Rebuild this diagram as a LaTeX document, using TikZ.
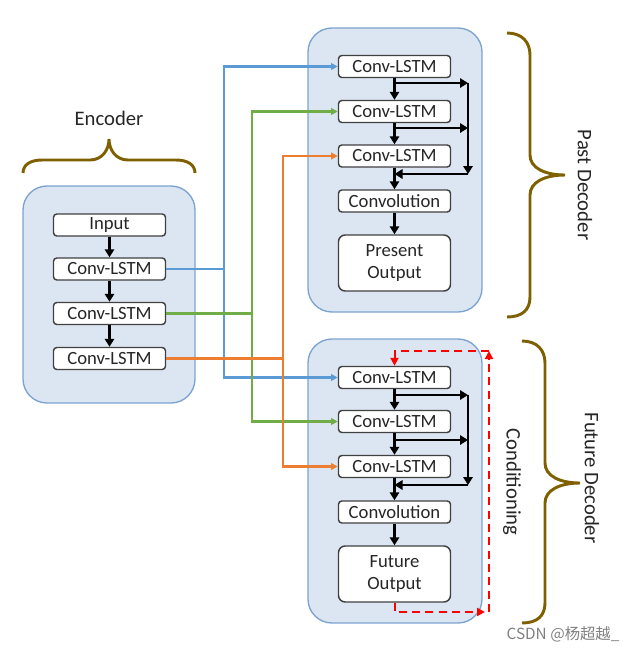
\documentclass[tikz,border=0pt]{standalone}
\usepackage{fontspec}
\setmainfont{Carlito}
\newfontfamily\cjkfont{Noto Sans CJK SC}
\usetikzlibrary{arrows.meta}
\definecolor{contfill}{HTML}{DCE6F2}
\definecolor{contdraw}{HTML}{7BA3D0}
\definecolor{boxdraw}{HTML}{404040}
\definecolor{cblue}{HTML}{5B9BD5}
\definecolor{cgreen}{HTML}{70AD47}
\definecolor{corange}{HTML}{ED7D31}
\definecolor{bracecol}{HTML}{7F6000}
\definecolor{txt}{HTML}{262626}
\tikzset{
  container/.style={draw=contdraw, fill=contfill, line width=1pt, rounded corners=18pt, inner sep=0pt},
  box/.style={draw=boxdraw, fill=white, line width=1.1pt, rounded corners=2.5pt, minimum width=84pt, minimum height=16.5pt, inner sep=0pt, font=\fontsize{14}{16}\selectfont, text=txt},
  bigbox/.style={box, minimum height=42pt, align=center, rounded corners=5pt},
  arr/.style={line width=1.6pt, -{Triangle[length=6pt,width=7pt]}},
  conn/.style={line width=1.7pt, -{Triangle[length=5pt,width=5pt]}},
  reddash/.style={red, line width=1.5pt, dash pattern=on 6pt off 4pt, -{Triangle[length=6pt,width=6pt]}},
  bracepath/.style={draw=bracecol, line width=2.2pt},
  lbl/.style={font=\fontsize{15.5}{18}\selectfont, text=txt}
}
\begin{document}
\begin{tikzpicture}[x=0.75pt,y=-0.75pt]
\useasboundingbox (0,0) rectangle (636,651);
% containers
\node[container, minimum width=129pt, minimum height=162.75pt] (enc) at (109,294.5) {};
\node[container, minimum width=130.5pt, minimum height=213pt] (past) at (395,170) {};
\node[container, minimum width=130.5pt, minimum height=213pt] (fut) at (395,481) {};
% encoder nodes
\node[box] (ein) at (109.5,225) {Input};
\node[box] (e1) at (109.5,269) {Conv-LSTM};
\node[box] (e2) at (109.5,313.5) {Conv-LSTM};
\node[box] (e3) at (109.5,358.5) {Conv-LSTM};
\draw[arr] (ein) -- (e1);
\draw[arr] (e1) -- (e2);
\draw[arr] (e2) -- (e3);
% past decoder nodes
\node[box] (p1) at (394.5,66.5) {Conv-LSTM};
\node[box] (p2) at (394.5,111.5) {Conv-LSTM};
\node[box] (p3) at (394.5,156) {Conv-LSTM};
\node[box] (pc) at (394.5,201) {Convolution};
\node[bigbox] (po) at (394.5,263) {Present\\Output};
\draw[arr] (p1) -- (p2);
\draw[arr] (p2) -- (p3);
\draw[arr] (p3) -- (pc);
\draw[arr] (pc) -- (po);
\coordinate (pr1) at (468,83);
\coordinate (pr2) at (468,128);
\coordinate (pr3) at (468,174);
\draw[arr] (p1.south |- pr1) -- (pr1);
\draw[arr] (p2.south |- pr2) -- (pr2);
\draw[arr] (pr1) -- (pr3);
\draw[arr] (pr3) -- (p3.south |- pr3);
% future decoder nodes
\node[box] (f1) at (394.5,377.5) {Conv-LSTM};
\node[box] (f2) at (394.5,421.5) {Conv-LSTM};
\node[box] (f3) at (394.5,466.5) {Conv-LSTM};
\node[box] (fc) at (394.5,512) {Convolution};
\node[bigbox] (fo) at (394.5,574) {Future\\Output};
\draw[arr] (f1) -- (f2);
\draw[arr] (f2) -- (f3);
\draw[arr] (f3) -- (fc);
\draw[arr] (fc) -- (fo);
\coordinate (fr1) at (468,395);
\coordinate (fr2) at (468,440);
\coordinate (fr3) at (468,485);
\draw[arr] (f1.south |- fr1) -- (fr1);
\draw[arr] (f2.south |- fr2) -- (fr2);
\draw[arr] (fr1) -- (fr3);
\draw[arr] (fr3) -- (f3.south |- fr3);
% colored connectors
\draw[conn, cblue] (e1.east) -- ++(58,0) |- (p1.west);
\draw[conn, cblue] (e1.east) -- ++(58,0) |- (f1.west);
\draw[conn, cgreen] (e2.east) -- ++(86,0) |- (p2.west);
\draw[conn, cgreen] (e2.east) -- ++(86,0) |- (f2.west);
\draw[conn, corange] (e3.east) -- ++(117,0) |- (p3.west);
\draw[conn, corange] (e3.east) -- ++(117,0) |- (f3.west);
% conditioning loop
\coordinate (rb) at (485,612);
\coordinate (rbr) at (489,612);
\coordinate (rt) at (489,351);
\draw[reddash] (fo.south) |- (rb);
\draw[reddash] (rbr) -- (rt);
\draw[reddash] (rt) -| (f1.north);
% braces
\draw[bracepath] (23,173) .. controls (23,165) and (30,160) .. (42,160) -- (90,160) .. controls (102,160) and (109,150) .. (109,139) .. controls (109,150) and (116,160) .. (128,160) -- (176,160) .. controls (188,160) and (195,165) .. (195,173);
\draw[bracepath] (507,33) .. controls (522,33) and (530,42) .. (530,55) -- (530,155) .. controls (530,168) and (545,175) .. (565,175) .. controls (545,175) and (530,182) .. (530,195) -- (530,297) .. controls (530,310) and (522,317) .. (507,317);
\draw[bracepath] (522,341) .. controls (537,341) and (545,350) .. (545,363) -- (545,463) .. controls (545,476) and (560,483) .. (580,483) .. controls (560,483) and (545,490) .. (545,503) -- (545,603) .. controls (545,616) and (537,623) .. (522,623);
% labels
\node[lbl] (lenc) at (109,118) {Encoder};
\node[lbl, rotate=-90] (lpast) at (585,185) {Past Decoder};
\node[lbl, rotate=-90] (lfut) at (592,478) {Future Decoder};
\node[lbl, rotate=-90] (lcond) at (512,482) {Conditioning};
\node[font=\cjkfont\fontsize{11.5}{13}\selectfont, text=black!50] (wm) at (563,634) {CSDN @杨超越\_};
\end{tikzpicture}
\end{document}
